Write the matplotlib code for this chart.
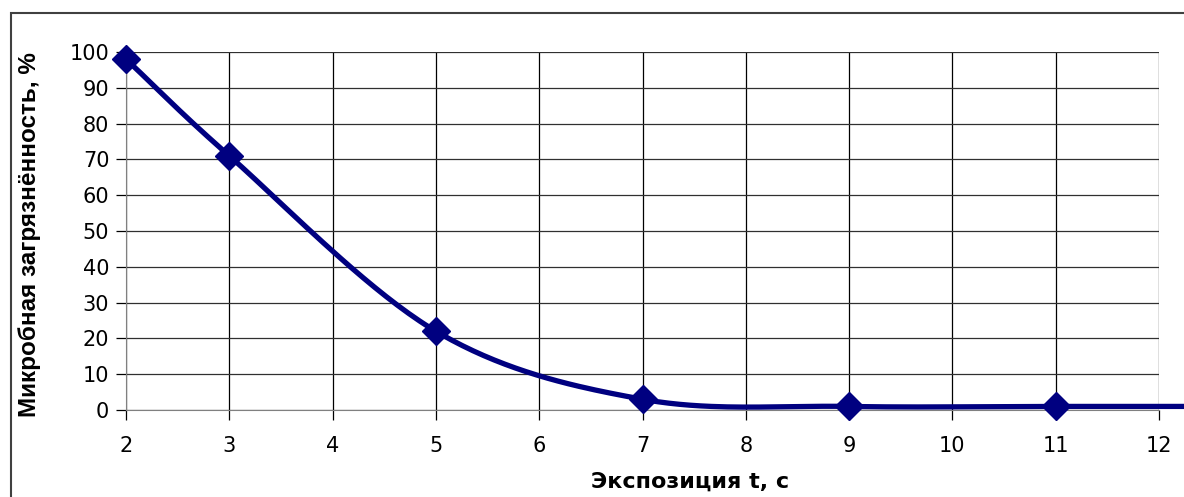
import numpy as np
import matplotlib.pyplot as plt
from matplotlib.patches import Rectangle

plt.rcParams['font.family'] = ['DejaVu Sans']

# data
t = [2, 3, 5, 7, 9, 11, 13]
contamination = [98, 71, 22, 3, 1, 1, 1]
x_ticks = list(range(2, 13))
y_ticks = list(range(0, 101, 10))


def smooth(xs, ys, n=40):
    # catmull-rom, like excel's smoothed line
    xs = np.asarray(xs, float)
    ys = np.asarray(ys, float)
    px = np.concatenate([[2 * xs[0] - xs[1]], xs, [2 * xs[-1] - xs[-2]]])
    py = np.concatenate([[2 * ys[0] - ys[1]], ys, [2 * ys[-1] - ys[-2]]])
    out_x, out_y = [], []
    s = np.linspace(0, 1, n)
    for i in range(1, len(px) - 2):
        for p, out in ((px, out_x), (py, out_y)):
            p0, p1, p2, p3 = p[i - 1], p[i], p[i + 1], p[i + 2]
            out.extend(0.5 * (2 * p1 + (-p0 + p2) * s
                              + (2 * p0 - 5 * p1 + 4 * p2 - p3) * s ** 2
                              + (-p0 + 3 * p1 - 3 * p2 + p3) * s ** 3))
    return out_x, out_y


fig = plt.figure(figsize=(11.84, 4.97), dpi=100)
ax = fig.add_axes([126 / 1184, 1 - 410 / 497, (1159 - 126) / 1184, (410 - 52) / 497])

sx, sy = smooth(t, contamination)
ax.plot(sx, sy, color='#000080', lw=3.8, clip_on=False, zorder=3)
ax.plot(t, contamination, ls='none', marker='D', ms=14, color='#000080', clip_on=False, zorder=4)

ax.set_xlim(2, 12)
ax.set_ylim(0, 100)
ax.set_xticks(x_ticks)
ax.set_yticks(y_ticks)
ax.grid(True, axis='x', color='black', lw=0.9)
ax.grid(True, axis='y', color='#303030', lw=0.9)
ax.tick_params(labelsize=15, direction='out', length=7, width=0.9, pad=5)
ax.tick_params(axis='x', pad=12)
for sp in ax.spines.values():
    sp.set_visible(False)
ax.spines['left'].set_visible(True)
ax.spines['bottom'].set_visible(True)
ax.spines['left'].set_color('#808080')
ax.spines['bottom'].set_color('#808080')

ax.set_xlabel('Экспозиция t, c', fontsize=16, fontweight='bold', va='center')
ax.xaxis.set_label_coords((690 - 126) / 1033, (410 - 482) / 358)
ax.set_ylabel('Микробная загрязнённость, %', fontsize=17.5, fontweight='bold',
              family='Liberation Sans', va='center')
ax.yaxis.set_label_coords((30 - 126) / 1033, (410 - 235) / 358)

fig.patches.append(Rectangle((11 / 1184, -0.1), 1.2, 1 - 13 / 497 + 0.1, transform=fig.transFigure,
                             fill=False, ec='#404040', lw=1.5, clip_on=False))

fig.savefig('out.png', dpi=100)
